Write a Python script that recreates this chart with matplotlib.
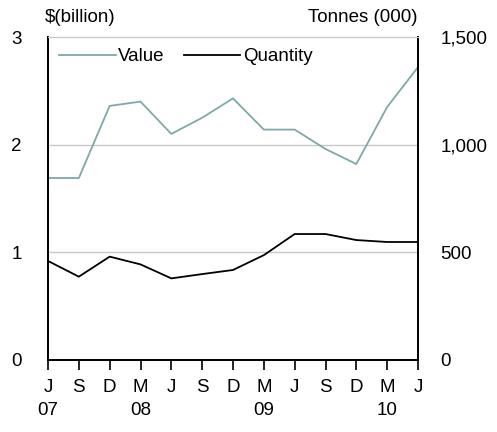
import matplotlib.pyplot as plt

# quarterly, Jun 2007 to Jun 2010
months = ["J", "S", "D", "M", "J", "S", "D", "M", "J", "S", "D", "M", "J"]
years = ["07", "", "", "08", "", "", "", "09", "", "", "", "10", ""]
value_bn = [1.69, 1.69, 2.36, 2.40, 2.10, 2.25, 2.43, 2.14, 2.14, 1.96, 1.82, 2.35, 2.72]
quantity_kt = [460, 387, 480, 444, 379, 399, 418, 487, 585, 585, 557, 548, 548]

plt.rcParams['font.family'] = ['Liberation Sans', 'DejaVu Sans']
plt.rcParams['font.size'] = 13.5

fig = plt.figure(figsize=(4.97, 4.32), dpi=100)
ax = fig.add_axes([48 / 497, 72 / 432, 370 / 497, 323 / 432])
ax2 = ax.twinx()

x = list(range(len(months)))
l1, = ax.plot(x, value_bn, color="#7fa8a8", lw=1.3, label="Value")
l2, = ax2.plot(x, quantity_kt, color="black", lw=1.3, label="Quantity")

ax.set_xlim(0, len(months) - 1)
ax.set_ylim(0, 3)
ax2.set_ylim(0, 1500)
ax.set_yticks([0, 1, 2, 3])
ax2.set_yticks([0, 500, 1000, 1500])
ax2.set_yticklabels(["0", "500", "1,000", "1,500"])

for yv in [1, 2]:
    ax.axhline(yv, color="#c8c8c8", lw=1, zorder=0)

ax.set_xticks(x)
ax.set_xticklabels([m + ("\n" + y if y else "") for m, y in zip(months, years)],
                   va="top", linespacing=1.4)
ax.tick_params(axis="x", direction="out", length=7, width=1.2, pad=7)
ax.tick_params(axis="y", length=0, pad=19)
ax2.tick_params(axis="y", length=0, pad=16)
ax2.tick_params(axis="x", length=0)

for a in (ax, ax2):
    a.spines["top"].set_color("#c8c8c8")
    a.spines["left"].set_linewidth(1.3)
    a.spines["right"].set_linewidth(1.3)
    a.spines["bottom"].set_linewidth(1.3)

fig.text(45 / 497, 1 - 18 / 432, "$(billion)", ha="left", va="center")
fig.text(418 / 497, 1 - 18 / 432, "Tonnes (000)", ha="right", va="center")

ax.legend([l1, l2], ["Value", "Quantity"], loc="upper left", ncol=2, frameon=False,
          handlelength=3.0, handletextpad=0.15, columnspacing=1.0,
          borderaxespad=0.2, bbox_to_anchor=(0.0, 1.0))

fig.savefig("out.png", dpi=100)
